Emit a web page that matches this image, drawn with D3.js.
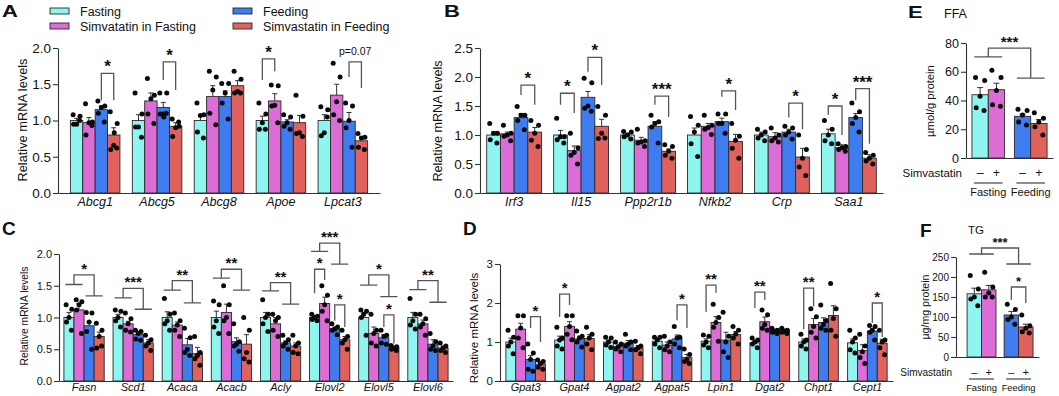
<!DOCTYPE html>
<html>
<head>
<meta charset="utf-8">
<script src="https://cdn.jsdelivr.net/npm/d3@7"></script>
<style>
  body { margin: 0; background: #fff; }
  svg { display: block; }
  text { font-family: "Liberation Sans", Arial, Helvetica, sans-serif; fill: #111; }
</style>
</head>
<body>
<svg id="fig" width="1059" height="396"></svg>
<script>
// ---------- data ----------
const seriesNames = ["Fasting", "Simvatatin in Fasting", "Feeding", "Simvastatin in Feeding"];
const colors = ["#8ef5ef", "#dc6cd6", "#3f7cf0", "#e1625c"];

// panel A
const genesA = ["Abcg1", "Abcg5", "Abcg8", "Apoe", "Lpcat3"];
const fastA = [1.0, 1.0, 1.0, 1.0, 1.0];
const simFastA = [0.97, 1.27, 1.33, 1.27, 1.35];
const feedA = [1.15, 1.18, 1.33, 0.98, 0.99];
const simFeedA = [0.8, 0.92, 1.48, 0.97, 0.72];
const semFastA = [0.03, 0.08, 0.08, 0.06, 0.08];
const semSimFastA = [0.07, 0.11, 0.15, 0.1, 0.15];
const semFeedA = [0.05, 0.07, 0.08, 0.03, 0.12];
const semSimFeedA = [0.1, 0.05, 0.07, 0.1, 0.05];
const dotsFastA = [[1.08, 1.06, 0.95, 0.95, 1.0], [1.38, 1.09, 0.91, 0.91, 0.77], [1.24, 1.08, 1.07, 0.84, 0.76], [1.24, 1.09, 0.97, 0.88, 0.88], [1.19, 1.15, 0.83, 0.79, 1.05]];
const dotsSimFastA = [[1.23, 0.98, 0.97, 0.8, 0.93], [1.58, 1.35, 1.3, 1.09, 0.96], [1.68, 1.6, 1.42, 1.1, 0.94], [1.49, 1.48, 1.21, 1.2, 0.97], [1.79, 1.6, 1.26, 1.08, 1.0]];
const dotsFeedA = [[1.27, 1.2, 1.18, 1.1, 0.98], [1.38, 1.38, 1.09, 1.09, 1.1, 1.05], [1.51, 1.51, 1.38, 1.24, 1.02], [1.08, 1.05, 0.97, 0.92, 0.88], [1.24, 1.2, 1.0, 0.9, 0.63]];
const dotsSimFeedA = [[1.12, 0.96, 0.66, 0.6, 0.62, 0.83], [1.02, 0.92, 0.9, 0.78, 0.98], [1.68, 1.57, 1.4, 1.38, 1.38], [1.35, 1.06, 0.83, 0.82, 0.78], [0.82, 0.77, 0.76, 0.63, 0.6]];
const sigA = [
  { gene: "Abcg1", a: 2, b: 3, top: 1.65, la: 1.28, lb: 1.28, label: "*" },
  { gene: "Abcg5", a: 2, b: 3, top: 1.81, la: 1.56, lb: 1.42, label: "*" },
  { gene: "Apoe", a: 0, b: 1, top: 1.85, la: 1.56, lb: 1.68, label: "*" },
  { gene: "Lpcat3", a: 2, b: 3, top: 1.81, la: 1.6, lb: 1.45, label: "p=0.07" }
];

// panel B
const genesB = ["Irf3", "Il15", "Ppp2r1b", "Nfkb2", "Crp", "Saa1"];
const fastB = [1.0, 1.0, 1.0, 1.0, 1.0, 1.02];
const simFastB = [1.02, 0.73, 0.91, 1.15, 0.97, 0.78];
const feedB = [1.3, 1.65, 1.15, 1.23, 1.05, 1.3];
const simFeedB = [1.05, 1.15, 0.72, 0.89, 0.62, 0.6];
const semFastB = [0.05, 0.08, 0.03, 0.12, 0.05, 0.08];
const semSimFastB = [0.03, 0.08, 0.05, 0.05, 0.07, 0.05];
const semFeedB = [0.07, 0.1, 0.08, 0.06, 0.05, 0.07];
const semSimFeedB = [0.08, 0.12, 0.04, 0.12, 0.15, 0.06];
const dotsFastB = [[1.2, 1.03, 1.03, 0.92, 0.86], [1.29, 0.97, 0.97, 0.92, 0.86], [1.06, 1.05, 1.0, 0.97, 0.93], [1.32, 1.17, 1.05, 0.85, 0.63], [1.1, 1.05, 1.0, 0.95, 0.9], [1.25, 1.1, 1.0, 0.9, 0.85]];
const dotsSimFastB = [[1.17, 1.03, 1.0, 0.98, 0.9], [1.03, 0.78, 0.7, 0.65, 0.5], [1.1, 0.9, 0.88, 0.86, 0.8], [1.34, 1.17, 1.13, 1.1, 1.01], [1.12, 1.0, 0.95, 0.9, 0.88], [0.85, 0.8, 0.78, 0.75, 0.72]];
const dotsFeedB = [[1.49, 1.34, 1.34, 1.25, 1.09], [1.98, 1.9, 1.5, 1.46, 1.41], [1.34, 1.23, 1.2, 1.14, 0.86], [1.36, 1.36, 1.2, 1.2, 1.03], [1.15, 1.12, 1.05, 1.0, 0.93], [1.55, 1.4, 1.3, 1.2, 1.05]];
const dotsSimFeedB = [[1.25, 1.17, 1.03, 0.91, 0.8], [1.49, 1.34, 1.03, 0.94, 0.95], [0.83, 0.8, 0.72, 0.65, 0.6], [1.2, 0.98, 0.91, 0.77, 0.6], [1.0, 0.75, 0.6, 0.45, 0.3], [0.7, 0.65, 0.6, 0.55, 0.5]];
const sigB = [
  { gene: "Irf3", a: 2, b: 3, top: 1.86, la: 1.69, lb: 1.52, label: "*" },
  { gene: "Il15", a: 0, b: 1, top: 1.72, la: 1.52, lb: 1.38, label: "*" },
  { gene: "Il15", a: 2, b: 3, top: 2.34, la: 2.09, lb: 1.86, label: "*" },
  { gene: "Ppp2r1b", a: 2, b: 3, top: 1.67, la: 1.52, lb: 1.31, label: "***" },
  { gene: "Nfkb2", a: 2, b: 3, top: 1.76, la: 1.66, lb: 1.43, label: "*" },
  { gene: "Crp", a: 2, b: 3, top: 1.55, la: 1.3, lb: 1.1, label: "*" },
  { gene: "Saa1", a: 0, b: 1, top: 1.5, la: 1.35, lb: 1.0, label: "*" },
  { gene: "Saa1", a: 2, b: 3, top: 1.8, la: 1.6, lb: 0.85, label: "***" }
];

// panel C
const genesC = ["Fasn", "Scd1", "Acaca", "Acacb", "Acly", "Elovl2", "Elovl5", "Elovl6"];
const fastC = [1.0, 1.0, 1.0, 1.0, 1.0, 1.0, 1.0, 1.0];
const simFastC = [1.12, 0.9, 0.88, 1.08, 0.9, 1.22, 0.75, 0.9];
const feedC = [0.87, 0.73, 0.57, 0.62, 0.6, 0.82, 0.68, 0.58];
const simFeedC = [0.7, 0.6, 0.43, 0.58, 0.55, 0.65, 0.52, 0.52];
const semFastC = [0.08, 0.05, 0.09, 0.1, 0.08, 0.02, 0.07, 0.08];
const semSimFastC = [0.1, 0.04, 0.05, 0.13, 0.1, 0.1, 0.1, 0.06];
const semFeedC = [0.06, 0.04, 0.1, 0.06, 0.03, 0.03, 0.05, 0.07];
const semSimFeedC = [0.07, 0.05, 0.1, 0.15, 0.05, 0.05, 0.02, 0.03];
const dotsFastC = [[1.2, 1.13, 1.0, 0.93, 0.8], [1.12, 1.1, 1.0, 0.95, 0.85], [1.3, 1.05, 0.95, 0.9, 0.8], [1.26, 1.2, 0.95, 0.85, 0.75], [1.28, 1.05, 1.0, 0.9, 0.78], [1.05, 1.02, 1.0, 0.97, 0.95], [1.12, 1.1, 1.05, 1.0, 0.72], [1.3, 1.05, 0.95, 0.88, 0.82]];
const dotsSimFastC = [[1.28, 1.25, 1.2, 1.12, 0.75], [1.07, 0.98, 0.9, 0.8, 0.77], [1.07, 0.95, 0.88, 0.8, 0.7], [1.5, 1.2, 1.0, 0.95, 0.75], [1.05, 1.0, 0.95, 0.8, 0.7], [1.5, 1.35, 1.2, 1.1, 0.95], [1.05, 0.8, 0.75, 0.6, 0.55], [1.05, 0.98, 0.9, 0.85, 0.72]];
const dotsFeedC = [[1.08, 1.07, 0.93, 0.78, 0.5], [0.8, 0.78, 0.75, 0.66, 0.64], [0.83, 0.68, 0.5, 0.45, 0.4], [0.9, 0.62, 0.58, 0.55, 0.47], [0.72, 0.65, 0.6, 0.55, 0.5], [0.9, 0.85, 0.82, 0.8, 0.73], [0.8, 0.72, 0.7, 0.6, 0.58], [0.75, 0.62, 0.55, 0.5, 0.48]];
const dotsSimFeedC = [[0.91, 0.8, 0.7, 0.52, 0.55], [0.72, 0.65, 0.6, 0.55, 0.48], [0.7, 0.45, 0.4, 0.35, 0.25], [1.0, 0.8, 0.45, 0.35, 0.3], [0.72, 0.6, 0.55, 0.45, 0.43], [0.8, 0.7, 0.65, 0.6, 0.5], [0.56, 0.54, 0.52, 0.5, 0.48], [0.6, 0.55, 0.52, 0.48, 0.45]];
const sigC = [
  { gene: "Fasn", group: true, l1: 1.52, top: 1.67, l2: 1.34, label: "*" },
  { gene: "Scd1", group: true, l1: 1.31, top: 1.46, l2: 1.13, label: "***" },
  { gene: "Acaca", group: true, l1: 1.43, top: 1.58, l2: 1.23, label: "**" },
  { gene: "Acacb", group: true, l1: 1.62, top: 1.76, l2: 1.43, label: "**" },
  { gene: "Acly", group: true, l1: 1.42, top: 1.55, l2: 1.21, label: "**" },
  { gene: "Elovl2", group: true, l1: 2.04, top: 2.17, l2: 1.84, label: "***" },
  { gene: "Elovl2", a: 0, b: 1, top: 1.76, la: 1.38, lb: 1.59, label: "*" },
  { gene: "Elovl2", a: 2, b: 3, top: 1.2, la: 0.95, lb: 0.85, label: "*" },
  { gene: "Elovl5", group: true, l1: 1.51, top: 1.67, l2: 1.33, label: "*" },
  { gene: "Elovl5", a: 2, b: 3, top: 1.04, la: 0.85, lb: 0.59, label: "*" },
  { gene: "Elovl6", group: true, l1: 1.44, top: 1.58, l2: 1.24, label: "**" }
];

// panel D
const genesD = ["Gpat3", "Gpat4", "Agpat2", "Agpat5", "Lpin1", "Dgat2", "Chpt1", "Cept1"];
const fastD = [1.0, 1.05, 1.0, 1.02, 1.02, 0.98, 1.0, 0.98];
const simFastD = [1.33, 1.4, 0.88, 0.92, 1.5, 1.52, 1.45, 0.78];
const feedD = [0.55, 1.08, 0.97, 1.08, 1.05, 1.28, 1.5, 1.28];
const simFeedD = [0.43, 1.09, 0.85, 0.6, 1.19, 1.28, 1.68, 0.97];
const semFastD = [0.1, 0.1, 0.05, 0.05, 0.06, 0.04, 0.08, 0.1];
const semSimFastD = [0.15, 0.12, 0.04, 0.08, 0.15, 0.12, 0.15, 0.15];
const semFeedD = [0.1, 0.07, 0.07, 0.1, 0.2, 0.03, 0.12, 0.07];
const semSimFeedD = [0.05, 0.1, 0.06, 0.08, 0.08, 0.03, 0.25, 0.1];
const dotsFastD = [[1.3, 1.12, 1.0, 0.9, 0.7], [1.38, 1.1, 1.05, 0.9, 0.82], [1.12, 1.1, 1.0, 0.92, 0.86], [1.12, 1.12, 1.05, 0.95, 0.85], [1.18, 1.15, 1.0, 0.92, 0.85], [1.1, 1.05, 1.0, 0.95, 0.85], [1.2, 1.05, 1.0, 0.9, 0.82], [1.3, 1.1, 1.0, 0.8, 0.72]];
const dotsSimFastD = [[1.67, 1.67, 1.36, 1.1, 0.85], [1.67, 1.67, 1.4, 1.2, 1.06], [1.0, 0.95, 0.88, 0.82, 0.75], [1.15, 1.0, 0.9, 0.8, 0.75], [1.97, 1.63, 1.5, 1.38, 1.02], [1.82, 1.7, 1.45, 1.35, 1.3], [1.85, 1.65, 1.4, 1.25, 1.1], [1.2, 0.9, 0.75, 0.6, 0.45]];
const dotsFeedD = [[0.95, 0.72, 0.55, 0.3, 0.25], [1.28, 1.15, 1.1, 1.0, 0.87], [1.2, 1.0, 0.95, 0.9, 0.8], [1.4, 1.12, 1.1, 0.95, 0.85], [1.76, 1.15, 1.0, 0.75, 0.6], [1.35, 1.3, 1.28, 1.25, 1.22], [1.95, 1.55, 1.45, 1.35, 1.3], [1.42, 1.4, 1.3, 1.25, 1.05]];
const dotsSimFeedD = [[0.54, 0.5, 0.45, 0.35, 0.3], [1.38, 1.2, 1.1, 0.95, 0.8], [1.02, 0.9, 0.85, 0.8, 0.7], [0.82, 0.68, 0.55, 0.5, 0.45], [1.4, 1.3, 1.2, 1.1, 0.95], [1.35, 1.3, 1.28, 1.25, 1.22], [2.5, 1.85, 1.6, 1.3, 1.15], [1.3, 1.05, 1.0, 0.85, 0.67]];
const sigD = [
  { gene: "Gpat3", a: 2, b: 3, top: 1.65, la: 1.36, lb: 1.0, label: "*" },
  { gene: "Gpat4", a: 0, b: 1, top: 2.23, la: 1.64, lb: 1.95, label: "*" },
  { gene: "Agpat5", a: 2, b: 3, top: 1.95, la: 1.56, lb: 1.36, label: "*" },
  { gene: "Lpin1", a: 0, b: 1, top: 2.46, la: 1.77, lb: 2.26, label: "**" },
  { gene: "Dgat2", a: 0, b: 1, top: 2.28, la: 1.87, lb: 2.08, label: "**" },
  { gene: "Chpt1", a: 0, b: 1, top: 2.38, la: 1.33, lb: 1.91, label: "**" },
  { gene: "Cept1", a: 2, b: 3, top: 2.0, la: 1.49, lb: 1.13, label: "*" }
];

// panel E (FFA) and F (TG): order fasting, simva fasting, feeding, simva feeding
const conditions = ["Fasting", "Feeding"];
const simvaMarks = ["\u2013", "+", "\u2013", "+"];
const ffaMeans = [44, 47.5, 29, 24];
const ffaSem = [5, 4.5, 1.5, 2.8];
const ffaDots = [[56, 54, 43, 35, 33], [61, 56, 47, 37, 36], [34, 33, 30, 25, 23], [31.5, 27.6, 25, 21.8, 16]];
const tgMeans = [158, 168, 105, 75];
const tgSem = [14, 11, 9, 7];
const tgDots = [[204, 170, 150, 145, 128], [212, 175, 160, 150, 150], [132, 119, 100, 94, 82], [105, 78, 72, 63, 60]];

// ---------- drawing ----------
const svg = d3.select("#fig");
const jitter = [-0.28, 0.28, 0.0, -0.24, 0.24, 0.04];

function title(txt, x, y, squash) {
  svg.append("text").attr("transform", `translate(${x},${y}) scale(1,${squash})`)
     .attr("font-size", squash < 1 ? 22 : 19).attr("font-weight", "bold").text(txt);
}

function yLabel(txt, x, y, size) {
  svg.append("text").attr("transform", `translate(${x},${y}) rotate(-90)`)
     .attr("text-anchor", "middle").attr("font-size", size).text(txt);
}

function styleAxis(ax, size) {
  ax.selectAll("path, line").attr("stroke", "#333").attr("stroke-width", 1.1);
  ax.selectAll("text").attr("font-size", size).attr("fill", "#111")
    .attr("font-family", "'Liberation Sans', Arial, sans-serif");
}

function bars(g, rows, xPos, bw, y, base, cap) {
  g.selectAll(".bar").data(rows).enter().append("rect")
   .attr("x", d => xPos(d)).attr("width", bw)
   .attr("y", d => y(d.mean)).attr("height", d => base - y(d.mean))
   .attr("fill", d => colors[d.s]).attr("stroke", "#2a2a2a").attr("stroke-width", 0.9);
  const eb = g.selectAll(".err").data(rows).enter().append("g");
  eb.append("line").attr("x1", d => xPos(d) + bw / 2).attr("x2", d => xPos(d) + bw / 2)
    .attr("y1", d => y(d.mean)).attr("y2", d => y(d.mean + d.sem)).attr("stroke", "#333").attr("stroke-width", 1);
  eb.append("line").attr("x1", d => xPos(d) + bw / 2 - cap).attr("x2", d => xPos(d) + bw / 2 + cap)
    .attr("y1", d => y(d.mean + d.sem)).attr("y2", d => y(d.mean + d.sem)).attr("stroke", "#333").attr("stroke-width", 1);
  const pts = rows.flatMap(d => d.dots.map((v, k) => ({ cx: xPos(d) + bw / 2 + jitter[k] * bw, v })));
  g.selectAll(".dot").data(pts).enter().append("circle")
   .attr("cx", d => d.cx).attr("cy", d => y(d.v)).attr("r", 2.5).attr("fill", "#0a0a0a");
}

function brackets(g, sig, center, bw, y, starSize) {
  sig.forEach(s => {
    const path = d3.path();
    let tx;
    if (s.group) {
      const ca = center(s.gene, 0), cb = center(s.gene, 1), cc = center(s.gene, 2), cd = center(s.gene, 3);
      const m1 = (ca + cb) / 2, m2 = (cc + cd) / 2, ext = bw * 0.35;
      path.moveTo(ca - ext, y(s.l1)); path.lineTo(cb + ext, y(s.l1));
      path.moveTo(m1, y(s.l1)); path.lineTo(m1, y(s.top)); path.lineTo(m2, y(s.top)); path.lineTo(m2, y(s.l2));
      path.moveTo(cc - ext, y(s.l2)); path.lineTo(cd + ext, y(s.l2));
      tx = (m1 + m2) / 2;
    } else {
      const xa = center(s.gene, s.a), xb = center(s.gene, s.b);
      path.moveTo(xa, y(s.la)); path.lineTo(xa, y(s.top)); path.lineTo(xb, y(s.top)); path.lineTo(xb, y(s.lb));
      tx = (xa + xb) / 2;
    }
    g.append("path").attr("d", path.toString()).attr("fill", "none").attr("stroke", "#555").attr("stroke-width", 1.3);
    const isP = s.label.startsWith("p");
    g.append("text").attr("x", tx).attr("y", y(s.top) - (isP ? 7 : 1))
     .attr("text-anchor", "middle").attr("font-size", isP ? 10.5 : starSize)
     .attr("font-weight", isP ? "normal" : "bold").text(s.label);
  });
}

function groupedPanel(cfg) {
  const g = svg.append("g");
  const x = d3.scaleBand().domain(cfg.genes).range([cfg.x0, cfg.x1]).paddingInner(cfg.pi).paddingOuter(cfg.po);
  const xs = d3.scaleBand().domain([0, 1, 2, 3]).range([0, x.bandwidth()]);
  const y = d3.scaleLinear().domain([0, cfg.ymax]).range([cfg.y0, cfg.y1]);

  const ay = g.append("g").attr("transform", `translate(${cfg.x0},0)`)
    .call(d3.axisLeft(y).tickValues(cfg.ticks).tickFormat(d3.format(cfg.fmt)).tickSize(5).tickSizeOuter(0).tickPadding(2));
  styleAxis(ay, cfg.tickFont);
  const ax = g.append("g").attr("transform", `translate(0,${cfg.y0})`)
    .call(d3.axisBottom(x).tickSize(0).tickSizeOuter(0).tickPadding(cfg.genePad));
  styleAxis(ax, cfg.geneFont);
  ax.selectAll("text").attr("font-style", "italic");

  const rows = cfg.genes.flatMap((gene, i) => cfg.means.map((m, s) => ({
    gene, s, mean: m[i], sem: cfg.sems[s][i], dots: cfg.dots[s][i]
  })));
  const bw = xs.bandwidth();
  bars(g, rows, d => x(d.gene) + xs(d.s), bw, y, cfg.y0, 2.5);
  brackets(g, cfg.sig, (gene, s) => x(gene) + xs(s) + bw / 2, bw, y, cfg.starSize);
  yLabel("Relative mRNA levels", cfg.labX, cfg.labY, cfg.labFont);
}

function smallPanel(cfg) {
  const g = svg.append("g");
  const x = d3.scaleBand().domain(conditions).range([cfg.x0, cfg.x1]).paddingInner(cfg.pi).paddingOuter(cfg.po).align(cfg.align);
  const xs = d3.scaleBand().domain([0, 1]).range([0, x.bandwidth()]);
  const y = d3.scaleLinear().domain([0, cfg.ymax]).range([cfg.y0, cfg.y1]);
  const ay = g.append("g").attr("transform", `translate(${cfg.x0},0)`)
    .call(d3.axisLeft(y).tickValues(cfg.ticks).tickSize(5).tickSizeOuter(0).tickPadding(2));
  styleAxis(ay, cfg.tickFont);
  const ax = g.append("g").attr("transform", `translate(0,${cfg.y0})`)
    .call(d3.axisBottom(x).tickSize(0).tickSizeOuter(0).tickFormat(""));
  styleAxis(ax, cfg.tickFont);

  const rows = cfg.means.map((m, s) => ({ gene: conditions[Math.floor(s / 2)], s, mean: m, sem: cfg.sems[s], dots: cfg.dots[s] }));
  const bw = xs.bandwidth();
  const xPos = d => x(d.gene) + xs(d.s % 2);
  bars(g, rows, xPos, bw, y, cfg.y0, 3);
  const center = (gene, s) => x(conditions[Math.floor(s / 2)]) + xs(s % 2) + bw / 2;
  brackets(g, cfg.sig, (gene, s) => center(gene, s), bw, y, cfg.starSize);

  // simvastatin row
  g.append("text").attr("x", cfg.x0 - 4).attr("y", cfg.rowY).attr("text-anchor", "end")
   .attr("font-size", cfg.rowFont).text("Simvastatin");
  g.selectAll(".mk").data(simvaMarks).enter().append("text")
   .attr("x", (d, i) => center("", i)).attr("y", cfg.rowY).attr("text-anchor", "middle")
   .attr("font-size", cfg.rowFont + 1).text(d => d);
  conditions.forEach(c => {
    g.append("line").attr("x1", x(c) + 2).attr("x2", x(c) + x.bandwidth() - 2)
     .attr("y1", cfg.lineY).attr("y2", cfg.lineY).attr("stroke", "#333").attr("stroke-width", 1.1);
    g.append("text").attr("x", x(c) + x.bandwidth() / 2).attr("y", cfg.condY).attr("text-anchor", "middle")
     .attr("font-size", cfg.condFont).text(c);
  });
  g.append("text").attr("x", cfg.nameX).attr("y", cfg.nameY).attr("font-size", cfg.nameFont).text(cfg.name);
  yLabel(cfg.ylab, cfg.labX, cfg.labY, cfg.labFont);
}

// legend
const legendPos = [[50, 8], [50, 23], [233, 8], [233, 23]];
seriesNames.forEach((n, i) => {
  svg.append("rect").attr("x", legendPos[i][0]).attr("y", legendPos[i][1]).attr("width", 19).attr("height", 6)
     .attr("fill", colors[i]).attr("stroke", "#2a2a2a").attr("stroke-width", 0.9);
  svg.append("text").attr("x", legendPos[i][0] + 30).attr("y", legendPos[i][1] + 7.5)
     .attr("font-size", 12.5).text(n);
});

groupedPanel({
  genes: genesA, means: [fastA, simFastA, feedA, simFeedA], sems: [semFastA, semSimFastA, semFeedA, semSimFeedA],
  dots: [dotsFastA, dotsSimFastA, dotsFeedA, dotsSimFeedA], sig: sigA,
  x0: 58, x1: 380, pi: 0.2, po: 0.2, y0: 193, y1: 48, ymax: 2, ticks: [0, 0.5, 1, 1.5, 2], fmt: ".1f",
  tickFont: 13.5, geneFont: 12.5, genePad: 4, starSize: 17, labX: 27, labY: 120, labFont: 12.8
});
groupedPanel({
  genes: genesB, means: [fastB, simFastB, feedB, simFeedB], sems: [semFastB, semSimFastB, semFeedB, semSimFeedB],
  dots: [dotsFastB, dotsSimFastB, dotsFeedB, dotsSimFeedB], sig: sigB,
  x0: 480, x1: 883, pi: 0.18, po: 0.1, y0: 193, y1: 48, ymax: 2.5, ticks: [0, 0.5, 1, 1.5, 2, 2.5], fmt: ".1f",
  tickFont: 13.5, geneFont: 12.5, genePad: 4, starSize: 17, labX: 442, labY: 121, labFont: 12.6
});
groupedPanel({
  genes: genesC, means: [fastC, simFastC, feedC, simFeedC], sems: [semFastC, semSimFastC, semFeedC, semSimFeedC],
  dots: [dotsFastC, dotsSimFastC, dotsFeedC, dotsSimFeedC], sig: sigC,
  x0: 59, x1: 453, pi: 0.18, po: 0.1, y0: 381, y1: 254, ymax: 2, ticks: [0, 0.5, 1, 1.5, 2], fmt: ".1f",
  tickFont: 11, geneFont: 11, genePad: 2.5, starSize: 15, labX: 28, labY: 316, labFont: 10.3
});
groupedPanel({
  genes: genesD, means: [fastD, simFastD, feedD, simFeedD], sems: [semFastD, semSimFastD, semFeedD, semSimFeedD],
  dots: [dotsFastD, dotsSimFastD, dotsFeedD, dotsSimFeedD], sig: sigD,
  x0: 500, x1: 893, pi: 0.19, po: 0.12, y0: 381, y1: 264, ymax: 3, ticks: [0, 1, 2, 3], fmt: "d",
  tickFont: 11.5, geneFont: 11, genePad: 2.5, starSize: 15, labX: 478, labY: 328, labFont: 11.5
});

smallPanel({
  means: ffaMeans, sems: ffaSem, dots: ffaDots,
  sig: [{ gene: "", group: true, l1: 70.3, top: 76.5, l2: 55.6, label: "***" }],
  x0: 966, x1: 1053, pi: 0.23, po: 0.14, align: 0.5, y0: 158, y1: 43, ymax: 80, ticks: [0, 20, 40, 60, 80],
  tickFont: 12.5, starSize: 15, rowY: 177, lineY: 183, condY: 196, rowFont: 11.5, condFont: 11,
  name: "FFA", nameX: 944, nameY: 18, nameFont: 12.5, ylab: "\u00b5mol/g protein", labX: 934, labY: 101, labFont: 11.3
});
smallPanel({
  means: tgMeans, sems: tgSem, dots: tgDots,
  sig: [{ gene: "", group: true, l1: 257.5, top: 272.5, l2: 232.5, label: "***" },
        { gene: "", a: 2, b: 3, top: 175, la: 142.5, lb: 135, label: "*" }],
  x0: 956, x1: 1039, pi: 0.22, po: 0.23, align: 0.65, y0: 357, y1: 257, ymax: 250, ticks: [0, 50, 100, 150, 200, 250],
  tickFont: 10, starSize: 13, rowY: 376, lineY: 379, condY: 391, rowFont: 10, condFont: 9.4,
  name: "TG", nameX: 968, nameY: 234, nameFont: 11.5, ylab: "\u00b5g/mg protein", labX: 929, labY: 307, labFont: 10.6
});

title("A", 2, 17, 0.72);
title("B", 444, 16.5, 0.72);
title("C", 2, 235, 1);
title("D", 463, 235, 1);
title("E", 908, 18, 0.72);
title("F", 920, 237, 1);
</script>
</body>
</html>
